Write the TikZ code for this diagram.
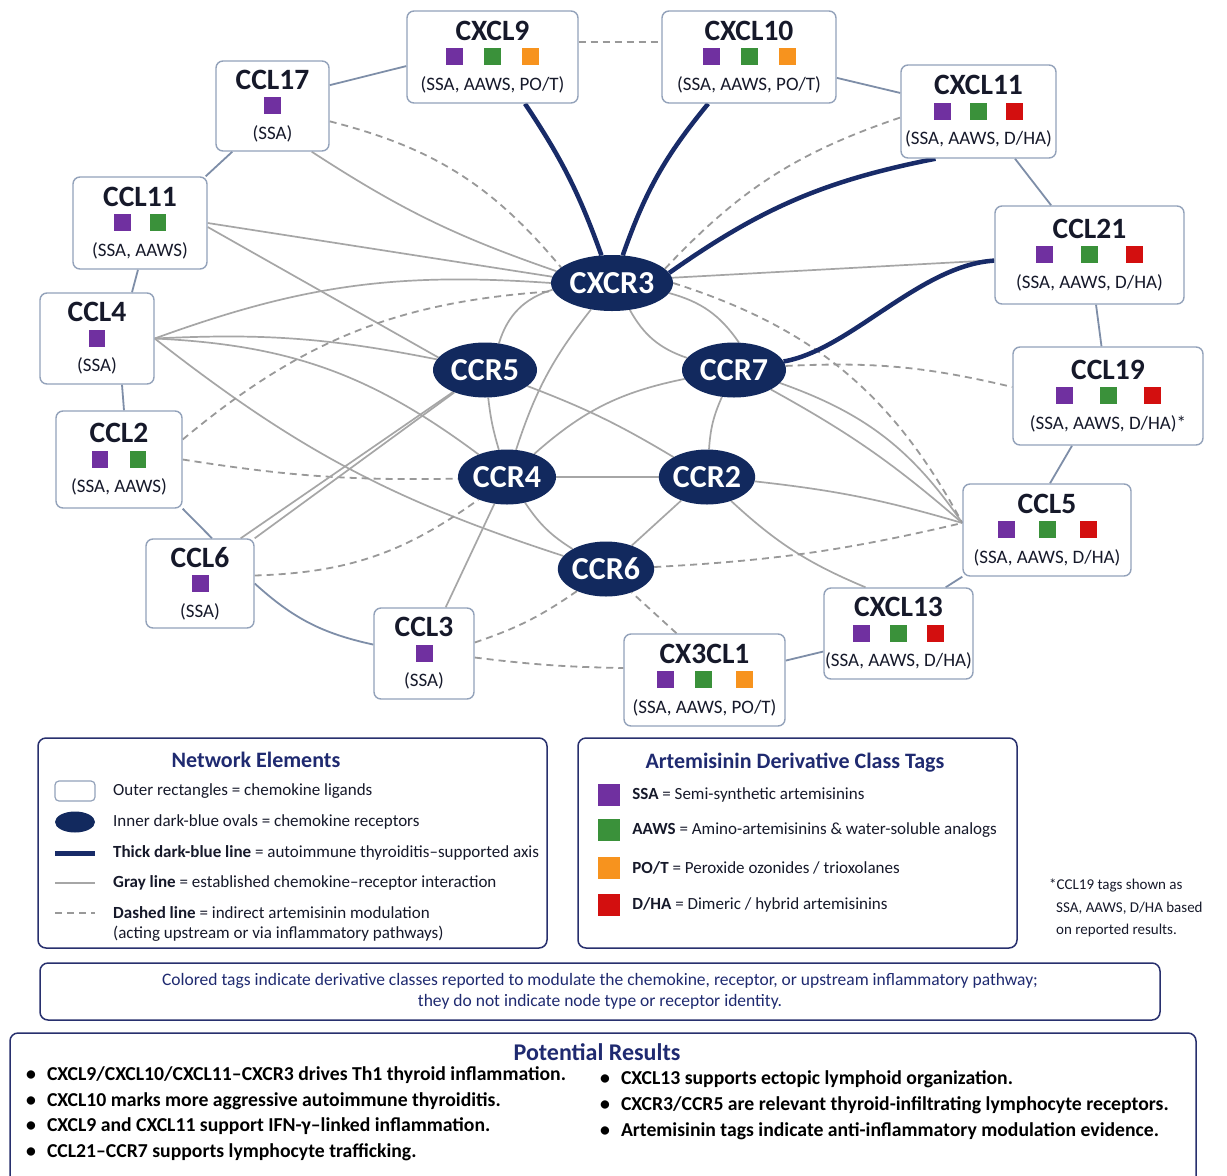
\documentclass[tikz,border=0pt]{standalone}
\usepackage{fontspec}
\setmainfont{Carlito}
\usetikzlibrary{shapes.geometric, positioning, backgrounds}
\definecolor{recnavy}{HTML}{12295E}
\definecolor{axisnavy}{HTML}{182B68}
\definecolor{edgegray}{HTML}{A6A6A6}
\definecolor{dashgray}{HTML}{999999}
\definecolor{ringslate}{HTML}{7E8EA8}
\definecolor{boxedge}{HTML}{93A2BA}
\definecolor{legnavy}{HTML}{28306E}
\definecolor{titlenavy}{HTML}{1F2A70}
\definecolor{inkdark}{HTML}{16192A}
\definecolor{sqpurple}{HTML}{7030A0}
\definecolor{sqgreen}{HTML}{3A913A}
\definecolor{sqorange}{HTML}{F7931E}
\definecolor{sqred}{HTML}{D30F0F}

\newcommand{\sq}[1]{\textcolor{#1}{\rule{17pt}{17pt}}}
\newcommand{\tgap}[1][21pt]{\hspace{#1}}
\newcommand{\ligname}[1]{{\fontsize{29.5}{25}\selectfont\bfseries #1}}

\begin{document}
\begin{tikzpicture}[
        x=1pt, y=-1pt,
        ligand/.style={rectangle, draw=boxedge, line width=1.4pt, fill=white, rounded corners=7pt, align=center, inner sep=0pt, text=inkdark, font=\fontsize{19}{25}\selectfont},
        receptor/.style={ellipse, fill=recnavy, text=white, inner sep=0pt, minimum width=104pt, minimum height=55pt, font=\fontsize{32}{32}\selectfont\bfseries},
        gline/.style={edgegray, line width=1.7pt},
        dline/.style={dashgray, line width=1.8pt, dash pattern=on 7pt off 5pt},
        axis/.style={axisnavy, line width=4.5pt},
        ring/.style={ringslate, line width=1.8pt},
        legbox/.style={rectangle, draw=legnavy, line width=1.5pt, rounded corners=8pt},
        legtitle/.style={text=titlenavy, font=\fontsize{22}{22}\selectfont\bfseries},
        legtext/.style={anchor=west, inner sep=0pt, text=inkdark, font=\fontsize{17}{21}\selectfont},
        keysq/.style={minimum size=22pt, inner sep=0pt},
        resitem/.style={anchor=west, inner sep=0pt, text=black, font=\fontsize{19.7}{22}\selectfont\bfseries}
    ]
    \useasboundingbox (0,0) rectangle (1227,1176);

    % chemokine ligands (outer ring)
    \node[ligand, minimum width=113pt, minimum height=90pt] (ccl17) at (272.5,106) {\ligname{CCL17}\\\sq{sqpurple}\\(SSA)};
    \node[ligand, minimum width=171pt, minimum height=92pt] (cxcl9) at (492.5,57) {\ligname{CXCL9}\\\sq{sqpurple}\tgap\sq{sqgreen}\tgap\sq{sqorange}\\(SSA, AAWS, PO/T)};
    \node[ligand, minimum width=174pt, minimum height=92pt] (cxcl10) at (749,57) {\ligname{CXCL10}\\\sq{sqpurple}\tgap\sq{sqgreen}\tgap\sq{sqorange}\\(SSA, AAWS, PO/T)};
    \node[ligand, minimum width=155pt, minimum height=93pt] (cxcl11) at (978.5,111.5) {\ligname{CXCL11}\\\sq{sqpurple}\tgap[19pt]\sq{sqgreen}\tgap[19pt]\sq{sqred}\\(SSA, AAWS, D/HA)};
    \node[ligand, minimum width=189pt, minimum height=98pt] (ccl21) at (1089.5,255) {\ligname{CCL21}\\\sq{sqpurple}\tgap[28pt]\sq{sqgreen}\tgap[28pt]\sq{sqred}\\(SSA, AAWS, D/HA)};
    \node[ligand, minimum width=190pt, minimum height=98pt] (ccl19) at (1108,396) {\ligname{CCL19}\\\sq{sqpurple}\tgap[27pt]\sq{sqgreen}\tgap[27pt]\sq{sqred}\\(SSA, AAWS, D/HA)*};
    \node[ligand, minimum width=168pt, minimum height=92pt] (ccl5) at (1047,530) {\ligname{CCL5}\\\sq{sqpurple}\tgap[24pt]\sq{sqgreen}\tgap[24pt]\sq{sqred}\\(SSA, AAWS, D/HA)};
    \node[ligand, minimum width=149pt, minimum height=91pt] (cxcl13) at (898.5,633.5) {\ligname{CXCL13}\\\sq{sqpurple}\tgap[20pt]\sq{sqgreen}\tgap[20pt]\sq{sqred}\\(SSA, AAWS, D/HA)};
    \node[ligand, minimum width=161pt, minimum height=92pt] (cx3cl1) at (704.5,680) {\ligname{CX3CL1}\\\sq{sqpurple}\tgap\sq{sqgreen}\tgap[24pt]\sq{sqorange}\\(SSA, AAWS, PO/T)};
    \node[ligand, minimum width=100pt, minimum height=91pt] (ccl3) at (424,653.5) {\ligname{CCL3}\\\sq{sqpurple}\\(SSA)};
    \node[ligand, minimum width=108pt, minimum height=89pt] (ccl6) at (200,583.5) {\ligname{CCL6}\\\sq{sqpurple}\\(SSA)};
    \node[ligand, minimum width=126pt, minimum height=97pt] (ccl2) at (119,459.5) {\ligname{CCL2}\\\sq{sqpurple}\tgap\sq{sqgreen}\\(SSA, AAWS)};
    \node[ligand, minimum width=114pt, minimum height=91pt] (ccl4) at (97,338.5) {\ligname{CCL4}\\\sq{sqpurple}\\(SSA)};
    \node[ligand, minimum width=134pt, minimum height=92pt] (ccl11) at (140,223) {\ligname{CCL11}\\\sq{sqpurple}\tgap[19pt]\sq{sqgreen}\\(SSA, AAWS)};

    % chemokine receptors
    \node[receptor, minimum width=122pt, minimum height=56pt] (cxcr3) at (612,283) {CXCR3};
    \node[receptor] (ccr5) at (485,370) {CCR5};
    \node[receptor] (ccr7) at (734,370) {CCR7};
    \node[receptor, minimum width=98pt] (ccr4) at (507,477) {CCR4};
    \node[receptor, minimum width=96pt] (ccr2) at (707,477) {CCR2};
    \node[receptor, minimum width=96pt] (ccr6) at (606,569) {CCR6};

    \coordinate (ccl5in) at ([yshift=7pt]ccl5.west);

    \begin{scope}[on background layer]
        \fill[white] (0,0) rectangle (1227,1176);
        % ring between neighbouring ligands
        \draw[ring] (ccl17.20) -- (cxcl9.186);
        \draw[dline] ([yshift=15pt]cxcl9.east) -- ([yshift=15pt]cxcl10.west);
        \draw[ring] (cxcl10) -- (cxcl11);
        \draw[ring] (cxcl11) -- (ccl21);
        \draw[ring] (ccl21) -- (ccl19);
        \draw[ring] ([xshift=-36pt]ccl19.south) -- ([xshift=3pt]ccl5.north);
        \draw[ring] (ccl5.south west) -- ([xshift=-28pt]cxcl13.north east);
        \draw[ring] (cxcl13) -- (cx3cl1);
        \draw[ring] (ccl3.170) to[bend left=15] (ccl6.east);
        \draw[ring] (ccl2.south east) -- ([xshift=12pt]ccl6.north);
        \draw[ring] ([xshift=5pt]ccl2.north) -- ([xshift=25pt]ccl4.south);
        \draw[ring] ([xshift=35pt]ccl4.north) -- ([xshift=-2pt]ccl11.south);
        \draw[ring] ([xshift=-2pt]ccl11.north east) -- ([xshift=17pt]ccl17.south west);

        % receptor to receptor
        \draw[gline] (cxcr3) to[bend right=28] (ccr5);
        \draw[gline] (cxcr3) to[bend right=10] (ccr4);
        \draw[gline] (cxcr3) to[bend right=21] (ccr7);
        \draw[gline] (cxcr3.-10) to[bend left=20] (ccr7.80);
        \draw[gline] (ccr5) to[bend right=5] (ccr4);
        \draw[gline] (ccr5) to[bend left=5] (ccr2);
        \draw[gline] (ccr7) to[bend right=15] (ccr4);
        \draw[gline] (ccr7) to[bend right=10] (ccr2);
        \draw[gline] (ccr4) -- (ccr2);
        \draw[gline] (ccr4) to[bend right=12] (ccr6);
        \draw[gline] (ccr2) -- (ccr6);

        % ligand to receptor
        \draw[gline] ([xshift=-18pt]ccl17.south east) to[bend right=7] (cxcr3.168);
        \draw[dline] (ccl17.-15) to[bend left=18] (cxcr3.163);
        \draw[gline] (ccl11.east) -- (cxcr3.174);
        \draw[gline] ([yshift=-4pt]ccl11.east) -- (ccr5.165);
        \draw[gline] (ccl4.east) to[bend left=12] (cxcr3.180);
        \draw[gline] (ccl4.east) to[bend left=7] (ccr5);
        \draw[gline] (ccl4.east) to[bend left=17] (ccr4);
        \draw[gline] (ccl4.east) to[bend right=10] (ccr6);
        \draw[dline] ([yshift=20pt]ccl2.east) to[bend left=18] (cxcr3.188);
        \draw[dline] (ccl2.east) to[bend right=5] (ccr4);
        \draw[gline] ([xshift=-14pt]ccl6.north east) -- (ccr5);
        \draw[gline] (ccl6.north east) -- (ccr5);
        \draw[dline] ([yshift=8pt]ccl6.east) to[bend right=17] (ccr4);
        \draw[gline] (ccl3) -- (ccr4);
        \draw[dline] ([yshift=11pt]ccl3.east) to[bend right=8] (ccr6);
        \draw[dline] ([yshift=-4pt]ccl3.east) to[bend right=3] ([yshift=12pt]cx3cl1.west);
        \draw[dline] ([xshift=-28pt]cx3cl1.north) -- (ccr6);
        \draw[gline] (ccr2) to[bend right=10] ([xshift=-33pt]cxcl13.north);
        \draw[dline] (ccr6) to[bend right=5] (ccl5in);
        \draw[gline] (ccr2) to[bend left=5] (ccl5in);
        \draw[gline] (ccr7) to[bend left=18] (ccl5in);
        \draw[gline] (ccr7) to[bend left=6] (ccl5in);
        \draw[dline] (cxcr3.east) to[bend left=22] (ccl5in);
        \draw[dline] (ccr7) to[bend left=8] ([yshift=9pt]ccl19.west);
        \draw[gline] (cxcr3.5) -- (ccl21);
        \draw[dline] (cxcr3.15) to[bend left=14] ([yshift=-6pt]cxcl11.west);

        % thyroiditis axis
        \draw[axis] (cxcr3) to[bend right=7] (cxcl9);
        \draw[axis] (cxcr3) to[bend left=10] (cxcl10);
        \draw[axis] (cxcr3.10) to[bend left=12] ([xshift=-43pt]cxcl11.south);
        \draw[axis] (ccr7) .. controls (850,350) and (920,265) .. (ccl21);
    \end{scope}

    % legend: network elements
    \node[legbox, minimum width=509pt, minimum height=210pt] (netbox) at (292.5,843) {};
    \node[legtitle] (nettitle) at (256,760) {Network Elements};
    \node[rectangle, draw=boxedge, line width=1.2pt, fill=white, rounded corners=4pt, minimum width=40pt, minimum height=20pt, inner sep=0pt] (keybox) at (75,791) {};
    \node[legtext] (keyboxtxt) at (113,791) {Outer rectangles = chemokine ligands};
    \node[ellipse, fill=recnavy, minimum width=40pt, minimum height=21pt, inner sep=0pt] (keyoval) at (75,822) {};
    \node[legtext] (keyovaltxt) at (113,822) {Inner dark-blue ovals = chemokine receptors};
    \draw[axis, line width=5pt] (55,853) -- (95,853);
    \node[legtext] (keyaxistxt) at (113,853) {\textbf{Thick dark-blue line} = autoimmune thyroiditis--supported axis};
    \draw[gline] (55,883) -- (95,883);
    \node[legtext] (keygraytxt) at (113,883) {\textbf{Gray line} = established chemokine--receptor interaction};
    \draw[dline] (55,913) -- (95,913);
    \node[legtext] (keydashtxt) at (113,913) {\textbf{Dashed line} = indirect artemisinin modulation};
    \node[legtext] (keydashtxt2) at (113,934) {(acting upstream or via inflammatory pathways)};

    % legend: derivative class tags
    \node[legbox, minimum width=439pt, minimum height=210pt] (tagbox) at (797.5,843) {};
    \node[legtitle] (tagtitle) at (795,763) {Artemisinin Derivative Class Tags};
    \node[keysq, fill=sqpurple] (keyssa) at (609,795) {};
    \node[legtext, right=12pt of keyssa] {\textbf{SSA} = Semi-synthetic artemisinins};
    \node[keysq, fill=sqgreen] (keyaaws) at (609,830) {};
    \node[legtext, right=12pt of keyaaws] {\textbf{AAWS} = Amino-artemisinins \& water-soluble analogs};
    \node[keysq, fill=sqorange] (keypot) at (609,868) {};
    \node[legtext, right=12pt of keypot] {\textbf{PO/T} = Peroxide ozonides / trioxolanes};
    \node[keysq, fill=sqred] (keydha) at (609,905) {};
    \node[legtext, right=12pt of keydha] {\textbf{D/HA} = Dimeric / hybrid artemisinins};

    \node[anchor=north west, align=left, inner sep=0pt, text=inkdark, font=\fontsize{15}{22.5}\selectfont] (ccl19note) at (1049,879) {*CCL19 tags shown as\\\hspace{7pt}SSA, AAWS, D/HA based\\\hspace{7pt}on reported results.};

    % note on tags
    \node[legbox, minimum width=1120pt, minimum height=57pt, align=center, text=titlenavy, font=\fontsize{17.5}{21}\selectfont] (tagnote) at (600,991.5) {Colored tags indicate derivative classes reported to modulate the chemokine, receptor, or upstream inflammatory pathway;\\they do not indicate node type or receptor identity.};

    % potential results
    \node[legbox, minimum width=1186pt, minimum height=170pt] (resbox) at (603,1118) {};
    \node[legtitle, font=\fontsize{24}{24}\selectfont\bfseries] (restitle) at (597,1052) {Potential Results};
    \node[resitem] (res1) at (26,1075) {\textbullet\hspace{11pt}CXCL9/CXCL10/CXCL11--CXCR3 drives Th1 thyroid inflammation.};
    \node[resitem] (res2) at (26,1101) {\textbullet\hspace{11pt}CXCL10 marks more aggressive autoimmune thyroiditis.};
    \node[resitem] (res3) at (26,1126) {\textbullet\hspace{11pt}CXCL9 and CXCL11 support IFN-γ--linked inflammation.};
    \node[resitem] (res4) at (26,1152) {\textbullet\hspace{11pt}CCL21--CCR7 supports lymphocyte trafficking.};
    \node[resitem] (res5) at (600,1079) {\textbullet\hspace{11pt}CXCL13 supports ectopic lymphoid organization.};
    \node[resitem] (res6) at (600,1105) {\textbullet\hspace{11pt}CXCR3/CCR5 are relevant thyroid-infiltrating lymphocyte receptors.};
    \node[resitem] (res7) at (600,1131) {\textbullet\hspace{11pt}Artemisinin tags indicate anti-inflammatory modulation evidence.};
\end{tikzpicture}
\end{document}
